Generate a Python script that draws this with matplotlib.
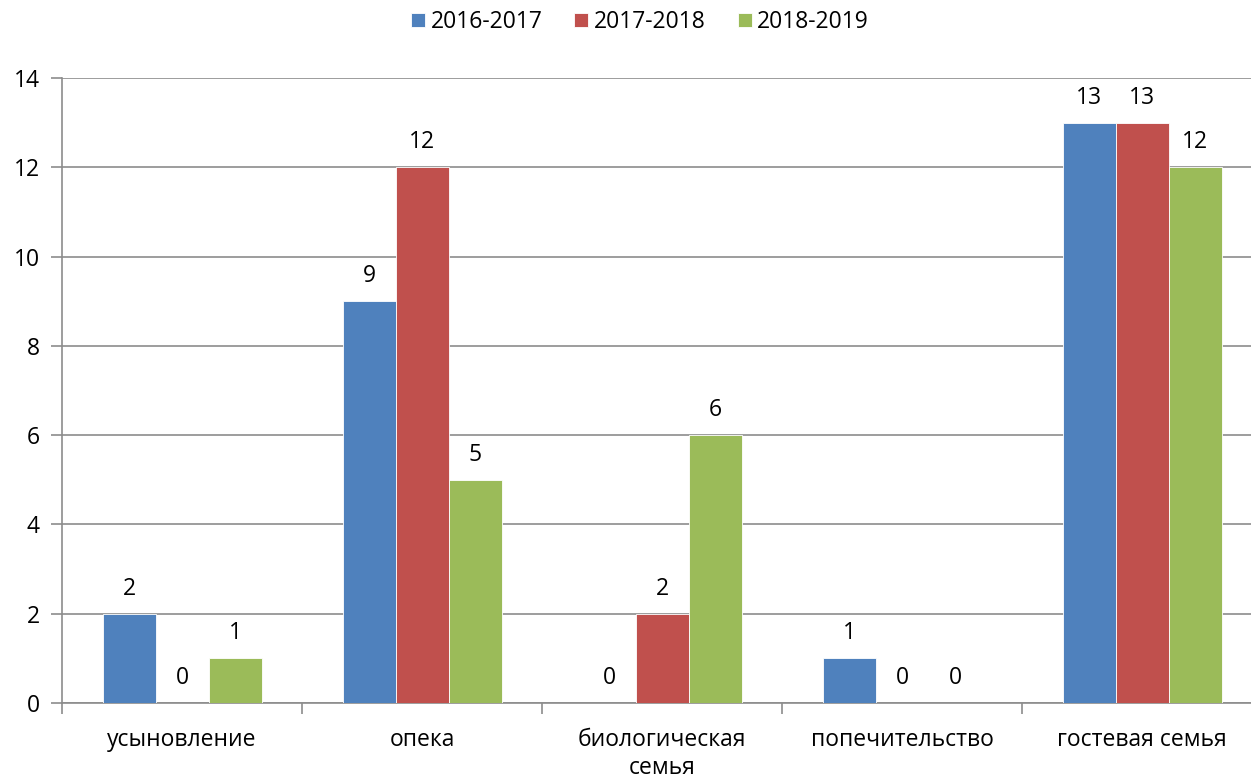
import matplotlib.pyplot as plt
import numpy as np

categories = ["усыновление", "опека", "биологическая\nсемья", "попечительство", "гостевая семья"]
series = ["2016-2017", "2017-2018", "2018-2019"]
v_2016 = [2, 9, 0, 1, 13]
v_2017 = [0, 12, 2, 0, 13]
v_2018 = [1, 5, 6, 0, 12]
colors = ["#4F81BD", "#C0504D", "#9BBB59"]

plt.rcParams["font.family"] = ["Open Sans", "DejaVu Sans"]
FS = 16.5

W, H = 1251, 778
fig = plt.figure(figsize=(W / 100, H / 100), dpi=100)
# plot area in pixels: left 62, right 1262 (cropped), top 78, bottom 703
ax = fig.add_axes([62 / W, (H - 703) / H, 1200 / W, (703 - 78) / H])

x = np.arange(len(categories))
bw = 53 / 240
for i, (vals, c, name) in enumerate(zip([v_2016, v_2017, v_2018], colors, series)):
    pos = x + (i - 1) * bw
    ax.bar(pos, vals, width=bw, color=c, edgecolor="white", linewidth=0.6,
           label=name, zorder=3)
    for px, v in zip(pos, vals):
        ax.annotate(str(v), (px, v), xytext=(0, 18), textcoords="offset points",
                    ha="center", va="center", fontsize=FS, color="#000000")

ax.set_xlim(-0.5, len(categories) - 0.5)
ax.set_ylim(0, 14)
ax.set_yticks(range(0, 15, 2))
ax.yaxis.grid(True, color="#8c8c8c", linewidth=1.2, zorder=0)
ax.set_axisbelow(True)

ax.set_xticks(x)
ax.set_xticklabels(categories, fontsize=FS, linespacing=1.25)
ax.set_xticks(np.arange(-0.5, len(categories)), minor=True)
ax.tick_params(axis="x", which="major", length=0, pad=18)
ax.tick_params(axis="x", which="minor", length=8, color="#8c8c8c", width=1.2)
ax.tick_params(axis="y", length=8, color="#8c8c8c", width=1.2, labelsize=FS, pad=8)

for s in ["top", "right"]:
    ax.spines[s].set_visible(False)
for s in ["left", "bottom"]:
    ax.spines[s].set_color("#8c8c8c")
    ax.spines[s].set_linewidth(1.2)

fig.legend(loc="center", bbox_to_anchor=(640 / W, 1 - 22 / H), ncol=3, frameon=False,
           fontsize=FS, handlelength=0.6, handleheight=0.6, handletextpad=0.25,
           columnspacing=1.4)

fig.savefig("out.png", dpi=100)
